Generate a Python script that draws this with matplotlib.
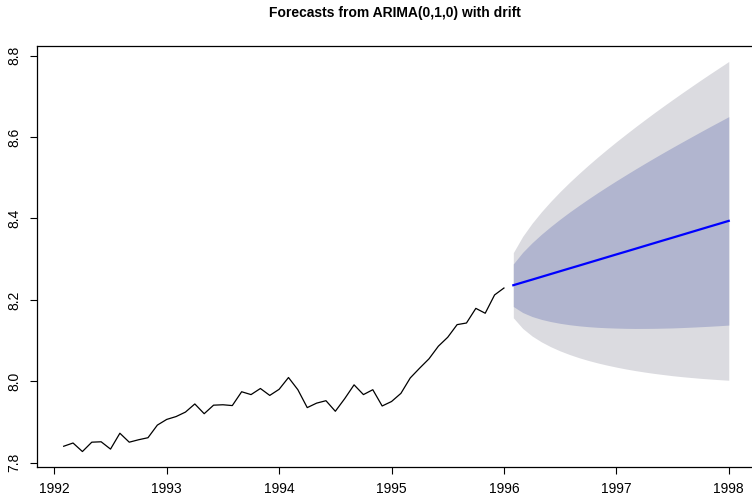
import matplotlib
import numpy as np

matplotlib.use("Agg")
import matplotlib.pyplot as plt

plt.rcParams["font.family"] = ["Liberation Sans", "DejaVu Sans"]

# monthly series, Feb 1992 .. Jan 1996
obs_start = 1992 + 1 / 12
fc_start = 1996 + 1 / 12
freq = 12

observed = [
    7.840, 7.848, 7.827, 7.850, 7.851, 7.833, 7.872, 7.850, 7.856, 7.861, 7.892, 7.906,
    7.913, 7.924, 7.944, 7.920, 7.941, 7.942, 7.940, 7.974, 7.967, 7.982, 7.965, 7.980,
    8.009, 7.979, 7.935, 7.946, 7.952, 7.926, 7.957, 7.991, 7.967, 7.979, 7.939, 7.950,
    7.970, 8.008, 8.032, 8.055, 8.086, 8.108, 8.139, 8.143, 8.179, 8.167, 8.212, 8.229,
]

fc_mean = [
    8.2359, 8.2428, 8.2496, 8.2565, 8.2634, 8.2703, 8.2772, 8.2840, 8.2909, 8.2978, 8.3047, 8.3116,
    8.3184, 8.3253, 8.3322, 8.3391, 8.3460, 8.3528, 8.3597, 8.3666, 8.3735, 8.3804, 8.3872, 8.3941,
]
hi80 = [
    8.2882, 8.3168, 8.3402, 8.3611, 8.3803, 8.3984, 8.4156, 8.4319, 8.4478, 8.4632, 8.4781, 8.4927,
    8.5069, 8.5210, 8.5347, 8.5483, 8.5616, 8.5747, 8.5876, 8.6004, 8.6131, 8.6257, 8.6380, 8.6503,
]
lo80 = [
    8.1836, 8.1688, 8.1590, 8.1519, 8.1465, 8.1422, 8.1388, 8.1361, 8.1340, 8.1324, 8.1313, 8.1305,
    8.1299, 8.1296, 8.1297, 8.1299, 8.1304, 8.1309, 8.1318, 8.1328, 8.1339, 8.1351, 8.1364, 8.1379,
]
hi95 = [
    8.3159, 8.3559, 8.3881, 8.4164, 8.4422, 8.4662, 8.4888, 8.5102, 8.5308, 8.5507, 8.5699, 8.5886,
    8.6067, 8.6245, 8.6419, 8.6590, 8.6757, 8.6921, 8.7083, 8.7242, 8.7400, 8.7555, 8.7707, 8.7859,
]
lo95 = [
    8.1559, 8.1297, 8.1111, 8.0966, 8.0846, 8.0744, 8.0656, 8.0578, 8.0510, 8.0449, 8.0395, 8.0346,
    8.0301, 8.0261, 8.0225, 8.0192, 8.0163, 8.0135, 8.0111, 8.0090, 8.0070, 8.0053, 8.0037, 8.0023,
]

year_ticks = [1992, 1993, 1994, 1995, 1996, 1997, 1998]
y_ticks = [7.8, 8.0, 8.2, 8.4, 8.6, 8.8]

t_obs = obs_start + np.arange(len(observed)) / freq
t_fc = fc_start + np.arange(len(fc_mean)) / freq

fig = plt.figure(figsize=(7.52, 4.99), dpi=100)
ax = fig.add_axes([37 / 752, 32 / 499, 718.4 / 752, 421 / 499])

ax.fill_between(t_fc, lo95, hi95, color="#dbdbe0", linewidth=0)
ax.fill_between(t_fc, lo80, hi80, color="#b1b5cf", linewidth=0)
ax.plot(t_obs, observed, color="black", linewidth=0.9)
ax.plot(t_fc, fc_mean, color="#0000ff", linewidth=1.6)

ax.set_xlim(1991.846, 1998.237)
ax.set_ylim(7.789, 8.824)
ax.set_xticks(year_ticks)
ax.set_xticklabels([str(y) for y in year_ticks])
ax.set_yticks(y_ticks)
ax.set_yticklabels([f"{v:.1f}" for v in y_ticks], rotation=90, va="center")
ax.tick_params(direction="out", length=5, width=0.8, labelsize=10, pad=6, colors="black")
for s in ax.spines.values():
    s.set_linewidth(0.9)

fig.text(395 / 752, 1 - 13 / 499, "Forecasts from ARIMA(0,1,0) with drift",
         ha="center", va="center", fontsize=10, fontweight="bold")

fig.savefig("out.png", dpi=100)
plt.close(fig)
